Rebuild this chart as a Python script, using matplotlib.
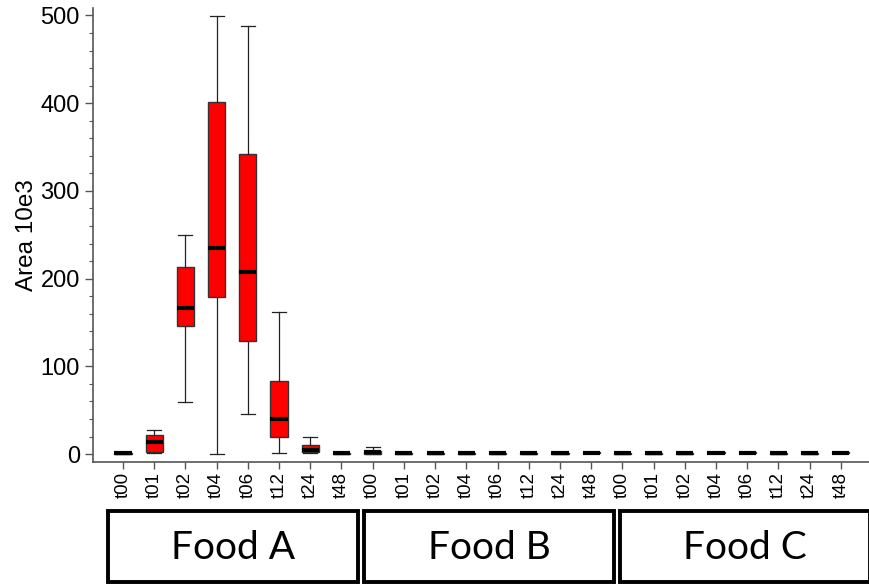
import matplotlib
matplotlib.use("Agg")
import matplotlib.pyplot as plt
from matplotlib.patches import Rectangle
from matplotlib.transforms import blended_transform_factory
from matplotlib.ticker import MultipleLocator

plt.rcParams['font.family'] = ['Liberation Sans', 'DejaVu Sans']

groups = ["Food A", "Food B", "Food C"]
times = ["t00", "t01", "t02", "t04", "t06", "t12", "t24", "t48"]

# box statistics per (group, time), in 10e3 units
med    = [1, 14, 167, 235, 208, 40, 5, 1,
          2, 1, 1, 1, 1, 1, 1, 1.5,
          1, 1, 1, 1.5, 1.5, 1, 1, 1.5]
q1     = [0.5, 2.6, 146, 179, 129, 19, 2.5, 0.5,
          0.5, 0.5, 0.5, 0.5, 0.5, 0.5, 0.5, 0.8,
          0.5, 0.5, 0.5, 0.8, 0.8, 0.5, 0.5, 0.8]
q3     = [1.5, 21.7, 213, 401, 342, 83, 10, 1.5,
          3.4, 1.5, 1.5, 1.5, 1.5, 1.5, 1.5, 2.5,
          1.5, 1.5, 1.5, 2.5, 2.5, 1.5, 1.5, 2.5]
whislo = [0.5, 0.8, 59, 0.5, 46, 0.8, 1.5, 0.5,
          0.2, 0.5, 0.5, 0.5, 0.5, 0.5, 0.5, 0.8,
          0.5, 0.5, 0.5, 0.8, 0.8, 0.5, 0.5, 0.8]
whishi = [1.5, 27, 250, 499, 488, 162, 19, 1.5,
          7.6, 1.5, 1.5, 1.5, 1.5, 1.5, 1.5, 2.5,
          1.5, 1.5, 1.5, 2.5, 2.5, 1.5, 1.5, 2.5]

labels = [t for g in groups for t in times]
stats = [dict(med=m, q1=a, q3=b, whislo=lo, whishi=hi, fliers=[])
         for m, a, b, lo, hi in zip(med, q1, q3, whislo, whishi)]

fig = plt.figure(figsize=(8.69, 5.85), dpi=100)
ax = fig.add_axes([93/869, 1-462/585, 1-93/869, (462-8)/585])

pos = list(range(len(stats)))
ax.bxp(stats, positions=pos, widths=0.55, patch_artist=True, showfliers=False,
       boxprops=dict(facecolor="#ff0000", edgecolor="#333333", linewidth=1.0),
       medianprops=dict(color="black", linewidth=3.0, solid_capstyle="butt"),
       whiskerprops=dict(color="#222222", linewidth=0.9),
       capprops=dict(color="#222222", linewidth=0.9),
       capwidths=0.45)

ax.set_xlim(-0.96, 23.9)
ax.set_ylim(-9, 508.5)
ax.set_xticks(pos)
ax.set_xticklabels(labels, rotation=90, fontsize=13.5)
ax.yaxis.set_major_locator(MultipleLocator(100))
ax.yaxis.set_minor_locator(MultipleLocator(20))
ax.tick_params(axis='y', which='major', length=6, width=1, labelsize=17, color="#555555")
ax.tick_params(axis='y', which='minor', length=3, width=0.8, color="#555555")
ax.tick_params(axis='x', length=5, width=1, pad=2, color="#555555")
ax.set_ylabel("Area 10e3", fontsize=17.5, labelpad=2)

for s in ["top", "right"]:
    ax.spines[s].set_visible(False)
for s in ["left", "bottom"]:
    ax.spines[s].set_color("#555555")
    ax.spines[s].set_linewidth(1.2)

tr = blended_transform_factory(ax.transData, fig.transFigure)
for g, name in enumerate(groups):
    left = g * 8.2 - 0.47
    r = Rectangle((left, 1-582/585), 8.0, (582-511)/585, transform=tr,
                  facecolor="none", edgecolor="black", linewidth=2.8, clip_on=False)
    fig.add_artist(r)
    fig.text(left + 4.0, 1-548/585, name, transform=tr, ha="center", va="center",
             fontsize=28, family=["Lato", "DejaVu Sans"])

fig.savefig("out.png", dpi=100)
